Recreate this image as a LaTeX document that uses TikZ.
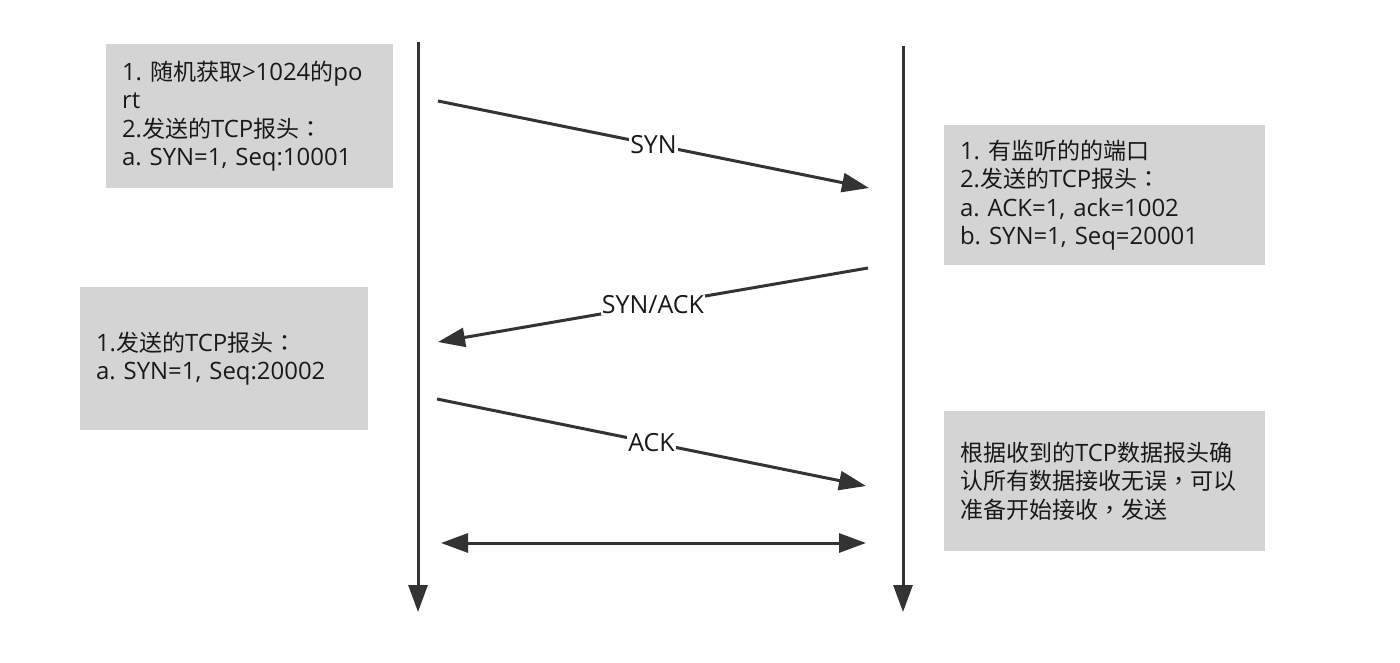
\documentclass[tikz,border=0pt]{standalone}
\usepackage{fontspec}
\setmainfont[Scale=1.04]{Open Sans}
\newfontfamily\cjk{Noto Sans CJK SC}
\newfontfamily\cjkp{Noto Sans CJK TC}
\usetikzlibrary{arrows.meta}
\definecolor{boxgray}{HTML}{D4D4D4}
\definecolor{linegray}{HTML}{333333}
\frenchspacing
\begin{document}
\begin{tikzpicture}[x=1pt,y=-1pt,
  tip/.style={-{Triangle[length=27pt,width=19pt]}},
  lifeline/.style={draw=linegray,line width=3pt,tip},
  msg/.style={draw=linegray,line width=3pt,tip},
  both/.style={draw=linegray,line width=3pt,{Triangle[length=27pt,width=19pt]}-{Triangle[length=27pt,width=19pt]}},
  infobox/.style={fill=boxgray,draw=none,inner xsep=16pt,inner ysep=0pt,align=left,
    font=\fontsize{23}{28.5}\selectfont,text=black!90},
  lab/.style={fill=white,inner sep=1pt,font=\fontsize{24}{26}\selectfont,text=black!90}
]
\useasboundingbox (0,0) rectangle (1400,663);
% lifelines
\coordinate (Ltop) at (418,42);
\coordinate (Lbot) at (418,612);
\coordinate (Rtop) at (903,46);
\coordinate (Rbot) at (903,612);
\draw[lifeline] (Ltop) -- (Lbot);
\draw[lifeline] (Rtop) -- (Rbot);
% boxes
\node[infobox,minimum width=287pt,minimum height=144pt,text width=255pt] (b1) at (249.5,116)
 {1. {\cjk 随机获取}>1024{\cjk 的}po\\rt\\2.{\cjk 发送的}TCP{\cjk 报头}{\cjkp ：}\\a. SYN=1, Seq:10001};
\node[infobox,minimum width=321pt,minimum height=140pt,text width=289pt] (b2) at (1104.5,195)
 {1. {\cjk 有监听的的端口}\\2.{\cjk 发送的}TCP{\cjk 报头}{\cjkp ：}\\a. ACK=1, ack=1002\\b. SYN=1, Seq=20001};
\node[infobox,minimum width=288pt,minimum height=143pt,text width=256pt] (b3) at (224,358.5)
 {1.{\cjk 发送的}TCP{\cjk 报头}{\cjkp ：}\\a. SYN=1, Seq:20002};
\node[infobox,minimum width=321pt,minimum height=140pt,text width=289pt] (b4) at (1104.5,481)
 {{\cjk 根据收到的}TCP{\cjk 数据报头确}\\{\cjk 认所有数据接收无误}{\cjkp ，}{\cjk 可以}\\{\cjk 准备开始接收}{\cjkp ，}{\cjk 发送}};
% messages
\coordinate (s1) at (438,101);
\coordinate (e1) at (869,188);
\coordinate (s2) at (868,268);
\coordinate (e2) at (438,342);
\coordinate (s3) at (437,399);
\coordinate (e3) at (866,486);
\coordinate (s4) at (441,543);
\coordinate (e4) at (866,543);
\draw[msg] (s1) -- node[lab] (l1) {SYN} (e1);
\draw[msg] (s2) -- node[lab] (l2) {SYN/ACK} (e2);
\draw[msg] (s3) -- node[lab] (l3) {ACK} (e3);
\draw[both] (s4) -- (e4);
\end{tikzpicture}
\end{document}
